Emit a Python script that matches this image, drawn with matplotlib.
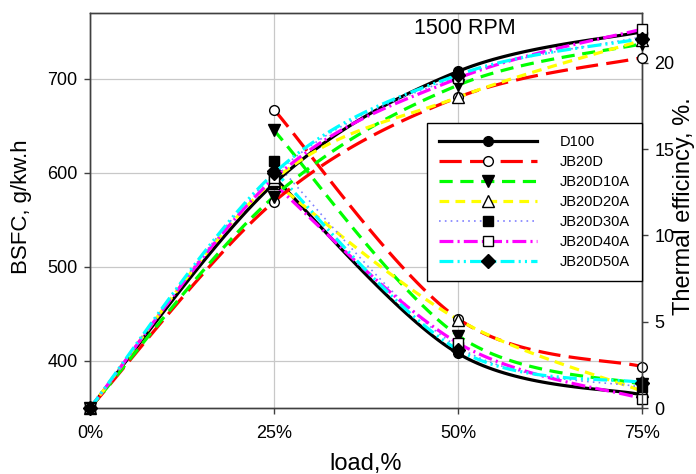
import numpy as np
import matplotlib
matplotlib.use('Agg')
import matplotlib.pyplot as plt
from matplotlib.lines import Line2D

plt.rcParams['font.family'] = ['Liberation Sans', 'DejaVu Sans']
plt.rcParams['lines.scale_dashes'] = False

# ---------------- data ----------------
load_pct = [0, 25, 50, 75]
bsfc_load_pct = [25, 50, 75]
x_tick_labels = ['0%', '25%', '50%', '75%']
series_names = ['D100', 'JB20D', 'JB20D10A', 'JB20D20A', 'JB20D30A', 'JB20D40A', 'JB20D50A']

# BSFC, g/kW.h at 25/50/75 % load
bsfc_d100 = [595, 408, 364]
bsfc_jb20d = [667, 445, 394]
bsfc_jb20d10a = [645, 427, 375]
bsfc_jb20d20a = [590, 444, 368]
bsfc_jb20d30a = [612, 415, 372]
bsfc_jb20d40a = [588, 419, 360]
bsfc_jb20d50a = [602, 412, 377]

# Thermal efficiency, % at 0/25/50/75 % load
eff_d100 = [0, 13.0, 19.5, 21.8]
eff_jb20d = [0, 11.95, 18.0, 20.3]
eff_jb20d10a = [0, 12.25, 18.7, 21.1]
eff_jb20d20a = [0, 13.2, 18.0, 21.3]
eff_jb20d30a = [0, 13.5, 19.2, 21.5]
eff_jb20d40a = [0, 13.3, 19.1, 21.95]
eff_jb20d50a = [0, 13.6, 19.3, 21.4]

bsfc_all = [bsfc_d100, bsfc_jb20d, bsfc_jb20d10a, bsfc_jb20d20a,
            bsfc_jb20d30a, bsfc_jb20d40a, bsfc_jb20d50a]
eff_all = [eff_d100, eff_jb20d, eff_jb20d10a, eff_jb20d20a,
           eff_jb20d30a, eff_jb20d40a, eff_jb20d50a]

# ---------------- styles ----------------
styles = [
    dict(color='black', ls='-', lw=2.3, marker='o', mfc='black', ms=7),
    dict(color='#ff0000', ls=(0, (16, 6)), lw=2.3, marker='o', mfc='white', ms=7),
    dict(color='#00ff00', ls=(0, (9.5, 5.5)), lw=2.3, marker='v', mfc='black', ms=8),
    dict(color='#ffff00', ls=(0, (7, 4.5)), lw=2.3, marker='^', mfc='white', ms=8),
    dict(color='#8080ff', ls=(0, (1.2, 3)), lw=1.2, marker='s', mfc='black', ms=7),
    dict(color='#ff00ff', ls=(0, (10, 3, 1.5, 3)), lw=2.3, marker='s', mfc='white', ms=7),
    dict(color='#00ffff', ls=(0, (10, 3, 1.5, 3, 1.5, 3)), lw=2.3, marker='D', mfc='black', ms=7),
]


def smooth(x, y, n=40):
    P = np.column_stack([np.asarray(x, float), np.asarray(y, float)])
    ext = np.vstack([P[0], P, P[-1]])
    t = np.linspace(0, 1, n)[:, None]
    out = []
    for i in range(len(P) - 1):
        p0 = ext[i + 1]
        p3 = ext[i + 2]
        c1 = p0 + (ext[i + 2] - ext[i]) / 6.0
        c2 = p3 - (ext[i + 3] - ext[i + 1]) / 6.0
        seg = ((1 - t) ** 3) * p0 + 3 * (1 - t) ** 2 * t * c1 + 3 * (1 - t) * t ** 2 * c2 + t ** 3 * p3
        out.append(seg if i == 0 else seg[1:])
    s = np.vstack(out)
    return s[:, 0], s[:, 1]


fig = plt.figure(figsize=(6.96, 4.74), dpi=100)
ax = fig.add_axes([0.1293, 0.1392, 0.7931, 0.8340])
ax2 = ax.twinx()

ax.set_xlim(0, 75)
ax.set_ylim(350, 770)
ax2.set_ylim(0, 22.9)

ax.set_xticks(load_pct)
ax.set_xticklabels(x_tick_labels)
ax.set_yticks([400, 500, 600, 700])
ax2.set_yticks([0, 5, 10, 15, 20])

ax.grid(True, color='#c8c8c8', lw=0.9)
ax.set_axisbelow(True)

for a in (ax, ax2):
    for sp in a.spines.values():
        sp.set_color('#404040')
        sp.set_linewidth(1.0)
    a.tick_params(direction='out', length=4, width=1, color='#404040',
                  labelsize=13, pad=5)
ax.tick_params(axis='x', pad=8)

handles = []
for name, st, b, e in zip(series_names, styles, bsfc_all, eff_all):
    xs, ys = smooth(bsfc_load_pct, b)
    ax.plot(xs, ys, color=st['color'], ls=st['ls'], lw=st['lw'], zorder=3)
    xs, ys = smooth(load_pct, e)
    ax2.plot(xs, ys, color=st['color'], ls=st['ls'], lw=st['lw'], zorder=3)

for name, st, b, e in zip(series_names, styles, bsfc_all, eff_all):
    ax.plot(bsfc_load_pct, b, ls='none', marker=st['marker'], mfc=st['mfc'],
            mec='black', mew=1, ms=st['ms'], clip_on=False, zorder=4)
    ax2.plot(load_pct, e, ls='none', marker=st['marker'], mfc=st['mfc'],
             mec='black', mew=1, ms=st['ms'], clip_on=False, zorder=4)
    handles.append(Line2D([], [], color=st['color'], ls=st['ls'], lw=st['lw'],
                          marker=st['marker'], mfc=st['mfc'], mec='black',
                          mew=1, ms=st['ms']))

ax.set_xlabel('load,%', fontsize=17, labelpad=8)
ax.set_ylabel('BSFC, g/kw.h', fontsize=16)
ax.yaxis.set_label_coords(-0.105, 0.51)
ax2.set_ylabel('Thermal efficincy, %.', fontsize=17)
ax2.yaxis.set_label_coords(1.056, 0.51)

ax.text(0.679, 0.959, '1500 RPM', transform=ax.transAxes, ha='center',
        va='center', fontsize=15.5)

leg = ax2.legend(handles, series_names, loc='upper right',
                 bbox_to_anchor=(1.0, 0.721), fontsize=10.5, handlelength=6.7,
                 handletextpad=1.6, labelspacing=0.42, borderpad=0.8,
                 frameon=True, fancybox=False, edgecolor='black',
                 framealpha=1, borderaxespad=0, numpoints=1)
leg.get_frame().set_linewidth(1.0)
leg.set_zorder(10)

fig.savefig('out.png', dpi=100)
